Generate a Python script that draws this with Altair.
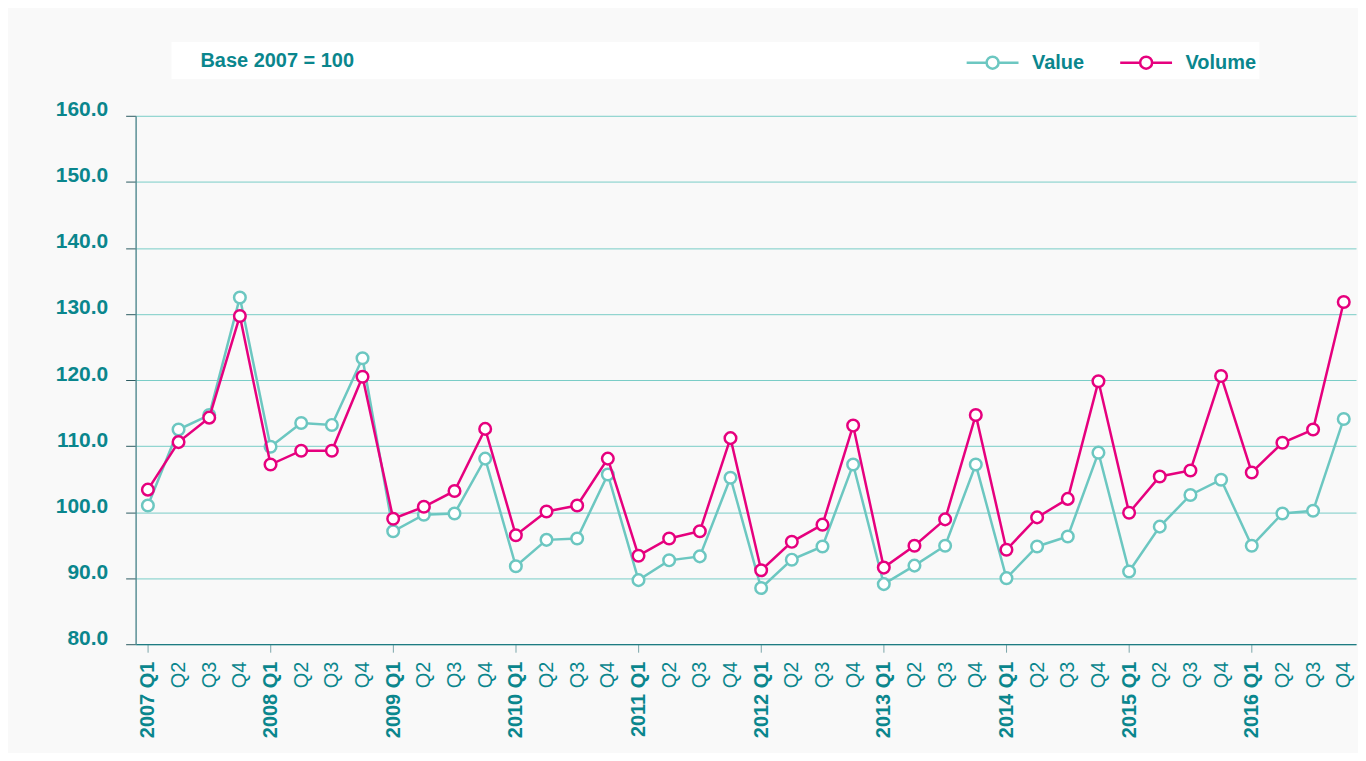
import altair as alt
import pandas as pd

years = [str(y) for y in range(2007, 2017)]
quarters = ["Q1", "Q2", "Q3", "Q4"]
periods = [f"{y} {q}" for y in years for q in quarters]

value = [101.0, 112.5, 114.7, 132.5,
         109.9, 113.5, 113.2, 123.3,
         97.1, 99.6, 99.8, 108.1,
         91.8, 95.8, 96.0, 105.7,
         89.7, 92.7, 93.3, 105.2,
         88.5, 92.8, 94.8, 107.2,
         89.1, 91.9, 94.9, 107.2,
         90.0, 94.8, 96.3, 109.0,
         91.0, 97.8, 102.6, 104.9,
         94.9, 99.8, 100.2, 114.1]

volume = [103.4, 110.6, 114.3, 129.7,
          107.2, 109.3, 109.3, 120.5,
          99.0, 100.8, 103.2, 112.6,
          96.5, 100.1, 101.0, 108.1,
          93.4, 96.0, 97.1, 111.2,
          91.2, 95.5, 98.1, 113.1,
          91.6, 94.9, 98.9, 114.7,
          94.3, 99.2, 102.0, 119.8,
          99.9, 105.4, 106.3, 120.6,
          106.0, 110.5, 112.5, 131.8]

series_names = ["Value", "Volume"]
series_colors = ["#6cc7c1", "#e6007e"]
subtitle = "Base 2007 = 100"
y_ticks = [80, 90, 100, 110, 120, 130, 140, 150, 160]

TEXT = "#0a868d"
FONT = "Liberation Sans"

df = pd.DataFrame({
    "period": periods * 2,
    "series": ["Value"] * len(periods) + ["Volume"] * len(periods),
    "index": value + volume,
})

is_q1 = "indexof(datum.value, 'Q1') >= 0"

x_enc = alt.X(
    "period:O", sort=periods,
    scale=alt.Scale(type="point", padding=0.4),
    axis=alt.Axis(
        title=None, grid=False, labelAngle=270, labelAlign="right", labelBaseline="middle",
        labelExpr="indexof(datum.value, 'Q1') >= 0 ? datum.value : substring(datum.value, 5)",
        labelFontWeight={"condition": {"test": is_q1, "value": "bold"}, "value": "normal"},
        tickOpacity={"condition": {"test": is_q1, "value": 1}, "value": 0},
        labelFontSize=20, labelColor=TEXT, labelPadding=9, tickSize=8,
        tickColor="#7aa6aa", domainColor="#1f7b82", domainWidth=1.2, labelFont=FONT,
    ),
)

y_enc = alt.Y(
    "index:Q",
    scale=alt.Scale(domain=[80, 160], nice=False, zero=False),
    axis=alt.Axis(
        title=None, values=y_ticks, format=".1f", labelFontSize=21, labelFontWeight="bold",
        labelColor=TEXT, labelPadding=18, tickSize=10, tickColor="#2a5a60",
        domainColor="#5a8f95", domainWidth=1.5, gridColor="#79cdc7", gridWidth=1,
        labelFont=FONT, labelBaseline="alphabetic",
    ),
)

legend_path = ("M-1,0L-0.25,0M0.25,0L1,0"
               "M0.23,0A0.23,0.23,0,1,1,-0.23,0A0.23,0.23,0,1,1,0.23,0Z")

stroke_enc = alt.Stroke(
    "series:N",
    scale=alt.Scale(domain=series_names, range=series_colors),
    legend=alt.Legend(
        title=None, orient="none", legendX=832, legendY=-81, direction="horizontal",
        symbolType=legend_path, symbolSize=2704, symbolStrokeWidth=2.5,
        symbolFillColor="white", labelFontSize=20, labelFontWeight="bold",
        labelColor=TEXT, labelFont=FONT, labelOffset=12, columnPadding=30, padding=0,
    ),
)

base = alt.Chart(df).encode(x=x_enc, y=y_enc, stroke=stroke_enc)

layers = []
for name in series_names:
    sub = base.transform_filter(alt.datum.series == name)
    layers.append(sub.mark_line(strokeWidth=2.5))
    layers.append(sub.mark_point(shape="circle", filled=True, fill="white",
                                 fillOpacity=1, opacity=1, size=135, strokeWidth=2.5))

box = alt.Chart(pd.DataFrame({"t": [subtitle]})).mark_rect(color="white").encode(
    x=alt.value(36), x2=alt.value(1127), y=alt.value(-74), y2=alt.value(-37)
)
label = alt.Chart(pd.DataFrame({"t": [subtitle]})).mark_text(
    align="left", baseline="middle", fontSize=20, fontWeight="bold", color=TEXT, font=FONT
).encode(x=alt.value(65), y=alt.value(-55), text="t:N")

chart = alt.layer(box, label, *layers).properties(
    width=1224, height=530,
    autosize=alt.AutoSizeParams(type="none"),
    padding={"left": 128, "top": 107, "right": 2, "bottom": 108},
    background="#f9f9f9",
).configure_view(stroke=None, fill="#f9f9f9")

chart.save("out.html", embed_options={"renderer": "svg", "actions": False})
